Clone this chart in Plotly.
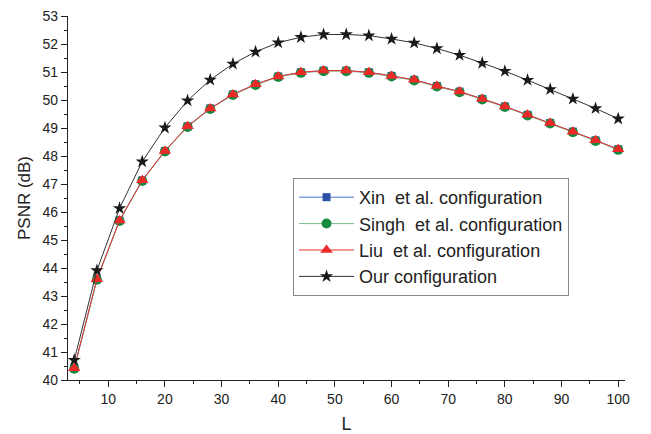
import plotly.graph_objects as go

L = [4, 8, 12, 16, 20, 24, 28, 32, 36, 40, 44, 48, 52, 56, 60, 64, 68, 72, 76, 80, 84, 88, 92, 96, 100]

xin = [40.42, 43.60, 45.70, 47.13, 48.18, 49.06, 49.70, 50.20, 50.56, 50.84, 50.99, 51.05, 51.05, 50.99,
       50.86, 50.72, 50.50, 50.30, 50.04, 49.77, 49.47, 49.18, 48.87, 48.56, 48.24]
singh = [40.40, 43.58, 45.68, 47.11, 48.16, 49.04, 49.68, 50.18, 50.54, 50.82, 50.97, 51.03, 51.03, 50.97,
         50.84, 50.70, 50.48, 50.28, 50.02, 49.75, 49.45, 49.16, 48.85, 48.54, 48.22]
liu = [40.42, 43.60, 45.70, 47.13, 48.18, 49.06, 49.70, 50.20, 50.56, 50.84, 50.99, 51.05, 51.05, 50.99,
       50.86, 50.72, 50.50, 50.30, 50.04, 49.77, 49.47, 49.18, 48.87, 48.56, 48.24]
ours = [40.71, 43.91, 46.13, 47.80, 49.01, 49.98, 50.72, 51.29, 51.72, 52.05, 52.24, 52.34, 52.34, 52.30,
        52.18, 52.04, 51.84, 51.60, 51.32, 51.03, 50.71, 50.38, 50.04, 49.70, 49.33]

names = ["Xin  et al. configuration", "Singh  et al. configuration",
         "Liu  et al. configuration", "Our configuration"]

fig = go.Figure()
fig.add_trace(go.Scatter(x=L, y=xin, name=names[0], mode="lines+markers",
                         line=dict(color="#4a72c8", width=1),
                         marker=dict(symbol="square", size=8, color="#2a52a8")))
fig.add_trace(go.Scatter(x=L, y=singh, name=names[1], mode="lines+markers",
                         line=dict(color="#7cc08a", width=1),
                         marker=dict(symbol="circle", size=10, color="#168a3e")))
fig.add_trace(go.Scatter(x=L, y=liu, name=names[2], mode="lines+markers",
                         line=dict(color="#e83030", width=1),
                         marker=dict(symbol="triangle-up", size=11, color="#ec2a2a")))
fig.add_trace(go.Scatter(x=L, y=ours, name=names[3], mode="lines+markers",
                         line=dict(color="#333333", width=1),
                         marker=dict(symbol="star", size=10, color="#1a1a1a")))

ff = "Arial, Liberation Sans, sans-serif"
axis_font = dict(family=ff, size=14, color="#222")
fig.update_layout(
    width=651, height=434,
    margin=dict(l=68, r=26, t=16, b=54),
    paper_bgcolor="white", plot_bgcolor="white",
    font=axis_font,
    showlegend=True,
    legend=dict(x=0.404, y=0.555, xanchor="left", yanchor="top",
                bordercolor="#888", borderwidth=1, bgcolor="white",
                font=dict(family=ff, size=18, color="#222"),
                tracegroupgap=0, itemwidth=55),
    xaxis=dict(range=[2.9, 101.2], tickmode="linear", tick0=0, dtick=10,
               ticks="outside", ticklen=6, tickwidth=1.3, tickcolor="#222",
               showline=True, linecolor="#222", linewidth=1.3, showgrid=False, zeroline=False,
               minor=dict(dtick=5, tick0=0, ticks="outside", ticklen=3, tickcolor="#222", showgrid=False),
               title=dict(text="L", font=dict(family=ff, size=18, color="#222"), standoff=15),
               automargin=False, tickfont=axis_font),
    yaxis=dict(range=[40, 53], tickmode="linear", tick0=40, dtick=1,
               ticks="outside", ticklen=6, tickwidth=1.3, tickcolor="#222",
               showline=True, linecolor="#222", linewidth=1.3, showgrid=False, zeroline=False,
               minor=dict(dtick=0.5, tick0=40, ticks="outside", ticklen=3, tickcolor="#222", showgrid=False),
               title=dict(text="PSNR (dB)", font=dict(family=ff, size=17, color="#222"), standoff=7),
               automargin=False, tickfont=axis_font),
)

fig.write_html("out.html")
